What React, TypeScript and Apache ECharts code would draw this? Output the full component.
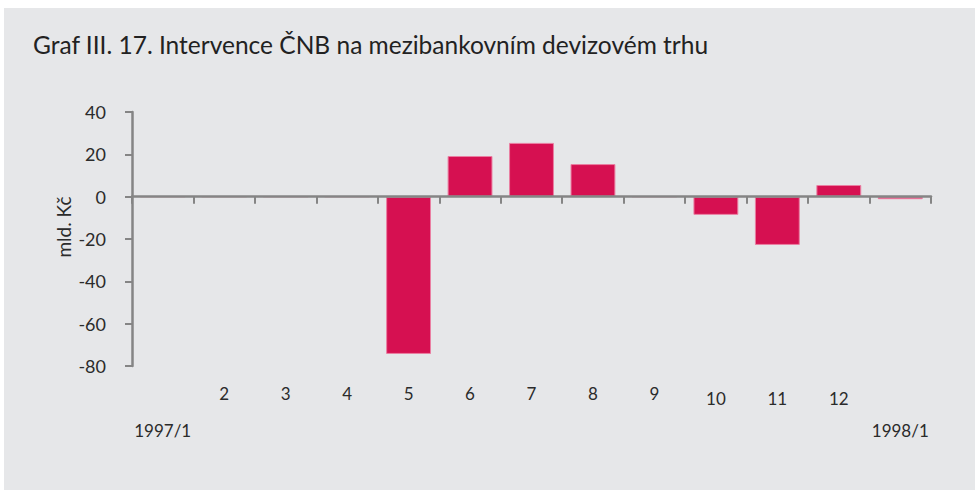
import React, { useEffect, useRef } from "react";
import * as echarts from "echarts";

const titleText = "Graf III. 17. Intervence ČNB na mezibankovním devizovém trhu";
const yAxisName = "mld. Kč";
const categories = ["1997/1", "2", "3", "4", "5", "6", "7", "8", "9", "10", "11", "12", "1998/1"];
const values = [0, 0, 0, 0, -74.3, 19.2, 25.4, 15.4, 0, -8.6, -22.8, 5.5, -1.2];
const yMin = -80;
const yMax = 40;
const yInterval = 20;
const yearLabelIdx = [0, 12];
const lowMonthIdx = [9, 10, 11];

const FONT = "Lato";
const AXIS_COLOR = "#858585";
const TEXT_COLOR = "#2b2b2b";

export default function App() {
  const ref = useRef<HTMLDivElement>(null);
  useEffect(() => {
    if (!ref.current) return;
    const chart = echarts.init(ref.current, undefined, { renderer: "svg" });
    chart.setOption({
      animation: false,
      backgroundColor: "#ffffff",
      textStyle: { fontFamily: FONT },
      graphic: [
        {
          type: "rect",
          z: -10,
          shape: { x: 4, y: 8, width: 971, height: 482 },
          style: { fill: "#e6e7e9" },
        },
        {
          type: "text",
          x: 33,
          y: 44,
          style: {
            text: titleText,
            font: `24.5px ${FONT}`,
            fill: "#222222",
            verticalAlign: "middle",
            align: "left",
          },
        },
        {
          type: "text",
          x: 63,
          y: 227,
          rotation: Math.PI / 2,
          style: {
            text: yAxisName,
            font: `19px ${FONT}`,
            fill: TEXT_COLOR,
            verticalAlign: "middle",
            align: "center",
          },
        },
      ],
      grid: { left: 132, top: 112, width: 799, height: 254, containLabel: false },
      xAxis: [
        {
          type: "category",
          data: categories,
          position: "bottom",
          z: 5,
          axisLine: { onZero: true, lineStyle: { color: AXIS_COLOR, width: 2.5 } },
          axisTick: { show: true, interval: 0, length: 7, lineStyle: { color: AXIS_COLOR, width: 2 } },
          axisLabel: { show: false },
        },
        {
          type: "category",
          data: categories,
          position: "bottom",
          axisLine: { show: false, onZero: false },
          axisTick: { show: false },
          axisLabel: {
            show: true,
            margin: 19,
            color: TEXT_COLOR,
            fontSize: 17,
            fontFamily: FONT,
            interval: (i: number) => !yearLabelIdx.includes(i),
            formatter: (v: string, i: number) => (lowMonthIdx.includes(i) ? `{low|${v}}` : `{n|${v}}`),
            rich: {
              n: { fontSize: 17, fontFamily: FONT, color: TEXT_COLOR },
              low: { fontSize: 17, fontFamily: FONT, color: TEXT_COLOR, padding: [5, 0, 0, 0] },
            },
          },
        },
        {
          type: "category",
          data: categories,
          position: "bottom",
          axisLine: { show: false, onZero: false },
          axisTick: { show: false },
          axisLabel: {
            show: true,
            margin: 56,
            color: TEXT_COLOR,
            fontSize: 17,
            fontFamily: FONT,
            interval: (i: number) => yearLabelIdx.includes(i),
          },
        },
      ],
      yAxis: {
        type: "value",
        min: yMin,
        max: yMax,
        interval: yInterval,
        z: 5,
        axisLine: { show: true, lineStyle: { color: AXIS_COLOR, width: 2.5 } },
        axisTick: { show: true, length: 7, lineStyle: { color: AXIS_COLOR, width: 2 } },
        splitLine: { show: false },
        axisLabel: { margin: 26, color: TEXT_COLOR, fontSize: 18, fontFamily: FONT },
      },
      series: [
        {
          type: "bar",
          xAxisIndex: 0,
          data: values,
          barCategoryGap: "27%",
          itemStyle: { color: "#d61051", borderColor: "#ea7fa2", borderWidth: 1 },
        },
      ],
    });
    return () => chart.dispose();
  }, []);
  return (
    <div style={{ position: "absolute", left: 0, top: 0, width: 977, height: 492 }}>
      <div ref={ref} style={{ width: 977, height: 492 }} />
    </div>
  );
}
